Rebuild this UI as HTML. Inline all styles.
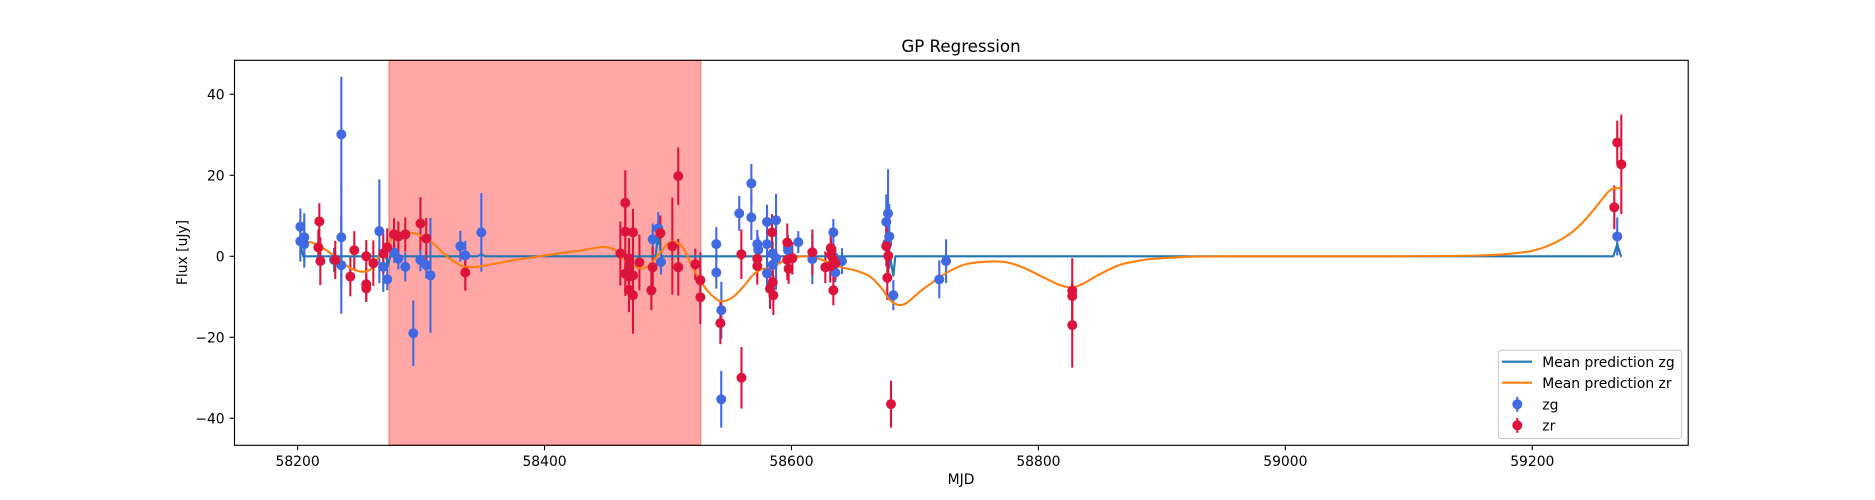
<!DOCTYPE html>
<html lang="en">
<head>
<meta charset="utf-8">
<title>GP Regression</title>
<style>
html,body{margin:0;padding:0;background:#fff;}
svg{display:block;}
text{font-family:"DejaVu Sans","Liberation Sans",sans-serif;fill:#000;}
</style>
</head>
<body>
<svg id="chart" xmlns="http://www.w3.org/2000/svg" width="1875" height="500" viewBox="0 0 1875 500">
  <rect x="0" y="0" width="1875" height="500" fill="#fff"/>
  <rect x="234.5" y="60.3" width="1453.7" height="385" fill="#fff"/>
  <g id="spanLayer"></g>
  <g id="barLayer"></g>
  <g id="lineLayer"></g>
  <g id="markerLayer"></g>
  <rect x="234.5" y="60.3" width="1453.7" height="385" fill="none" stroke="#000" stroke-width="1.11"/>
  <g id="xTicks"></g>
  <g id="yTicks"></g>
  <text x="961" y="52" font-size="16.67" text-anchor="middle">GP Regression</text>
  <text x="961" y="484" font-size="13.89" text-anchor="middle">MJD</text>
  <text x="0" y="0" font-size="13.89" text-anchor="middle" transform="translate(187 252.5) rotate(-90)">Flux [uJy]</text>
  <g>
    <rect x="1498.4" y="350.2" width="183.2" height="88.4" rx="3" ry="3" fill="#fff" fill-opacity="0.8" stroke="#ccc" stroke-width="1.11"/>
    <line x1="1502" y1="361.7" x2="1532" y2="361.7" stroke="#1f77b4" stroke-width="2.08"/>
    <text x="1542.3" y="366.8" font-size="13.89">Mean prediction zg</text>
    <line x1="1502" y1="382.7" x2="1532" y2="382.7" stroke="#ff7f0e" stroke-width="2.08"/>
    <text x="1542.3" y="388" font-size="13.89">Mean prediction zr</text>
    <line x1="1517.3" y1="396.8" x2="1517.3" y2="411.8" stroke="#4169e1" stroke-width="2.08"/>
    <circle cx="1517.3" cy="404.3" r="5" fill="#4169e1"/>
    <text x="1542.3" y="409.3" font-size="13.89">zg</text>
    <line x1="1517.3" y1="417.8" x2="1517.3" y2="432.8" stroke="#dc143c" stroke-width="2.08"/>
    <circle cx="1517.3" cy="425.3" r="5" fill="#dc143c"/>
    <text x="1542.3" y="430.4" font-size="13.89">zr</text>
  </g>
</svg>
<script>
var xTickValues = [58200, 58400, 58600, 58800, 59000, 59200];
var yTickValues = [-40, -20, 0, 20, 40];

var highlightStart = 58274;
var highlightEnd = 58526.5;

var zgMjd = [58202.2,58202.2,58205.4,58205.4,58229.5,58235.4,58235.4,58235.4,58266.2,58269.4,58272.6,58278.3,58281.6,58287.2,58293.7,58299.4,58304.2,58307.6,58331.8,58335.8,58348.8,58487.6,58492.1,58494.3,58539.1,58539.1,58543.2,58543.1,58557.7,58567.5,58567.5,58572.3,58573.1,58580.2,58580.2,58580.2,58584.8,58584.8,58587.5,58587.5,58597.2,58597.2,58605.5,58616.9,58633.9,58633.9,58635.5,58640.9,58678.2,58676.8,58679.2,58677.6,58682.5,58719.7,58725.2,59268.8];
var zgFlux = [7.3,3.7,4.7,3.0,-0.9,30.1,4.7,-2.2,6.2,-2.6,-5.7,0.9,-0.6,-2.6,-19,-0.9,-2.2,-4.7,2.5,0.2,5.9,4.2,6.9,-1.4,3,-4,-13.3,-35.3,10.6,18,9.6,3,1.6,8.5,3,-4.2,0.7,-2.1,8.9,-0.5,2.2,1.5,3.5,-0.7,5.9,0,-4,-1.2,10.6,8.5,4.9,3.2,-9.6,-5.7,-1.2,4.9];
var zgError = [4.5,5,5.9,5.8,3,14.2,12,12,12.8,6.2,2.7,2.5,2.6,3.6,8.1,2.8,3.3,14.2,3.8,3.6,9.7,3.9,4,3.1,4.2,4,7,7,4.3,4.8,5.6,3.5,3.2,4.2,3.5,4.5,3,3,6.5,7.8,3,3,2.7,6.2,3.3,3,2.4,3.2,10.9,6.8,8,4,3.7,4.7,5.4,4.7];

var zrMjd = [58217.6,58216.8,58218.4,58230.5,58242.7,58245.9,58255.6,58255.6,58255.6,58261.3,58269.4,58272.6,58278.1,58281.6,58287.2,58299.5,58304.2,58335.8,58461.4,58465.4,58465.4,58471.6,58476.8,58468.4,58468.4,58468.4,58465.4,58471.6,58468.4,58471.6,58487.6,58486.5,58493.8,58503.5,58508.3,58508.3,58522.1,58526.2,58526.2,58542.4,58559.4,58559.5,58572.3,58572.3,58584.2,58582.6,58584.8,58585.3,58596.6,58596.6,58597.7,58600.7,58616.9,58627.4,58631.8,58632,58633.9,58633.9,58635.5,58631.4,58676.8,58678.4,58677.6,58680.6,58827.4,58827.4,58827.4,59268.8,59272.1,59266.4];
var zrFlux = [8.6,2.2,-1.2,-0.9,-5,1.5,0,-6.9,-7.9,-1.7,0.7,2.2,5.4,4.9,5.4,8.1,4.4,-4,0.7,13.2,6.1,5.9,-1.5,-0.5,-2.6,-5,-4.3,-4.7,-8.3,-9.6,-2.7,-8.4,5.7,2.5,19.8,-2.7,-2,-5.9,-10.1,-16.5,0.5,-30,-0.6,-2.4,5.9,-8,-6.4,-9.6,3.4,-0.9,-3.1,-0.5,1,-2.7,2,0.3,-0.9,-8.4,-1.7,-2.5,2.5,0.1,-5.3,-36.5,-8.5,-9.8,-17,28.1,22.7,12.1];
var zrError = [4.5,4.4,5.9,4.7,4.9,4.7,4,4,3.4,5.6,5,4.7,4,3.7,4.2,6.5,5.1,4.5,7.9,8,6,5.8,6.9,5,5,5.5,5.5,5,5.5,9.5,5,4.9,4.4,12,7.1,7,3.9,6.9,6.6,5.2,6.1,7.6,4,4.6,4.5,5,4,4.9,4.7,5,3.7,4,5.6,3.9,5,4,4,3.7,4,4,5,6,5.5,5.8,8,3,10.5,5.4,12.3,5.4];

var zgMeanMjd = [58202.0,58203.0,58204.6,58271.6,58273.0,58275.0,58345.5,58348.8,58352.0,58489.9,58492.1,58494.7,58679.8,58682.5,58684.1,59265.6,59268.8,59271.9,59272.4];
var zgMeanFlux = [3.0,1.8,0,0,-2.6,0,0,0.5,0,0,5.5,0,0,-4.8,0,0,3,0,0];

var zrMeanMjd = [58204.6,58211.4,58220.6,58228.7,58236.8,58244.9,58253.2,58260,58265.1,58272.2,58277.3,58288.4,58296.5,58304.6,58309.7,58315.3,58320.8,58328.9,58335.6,58345,58358.5,58363.9,58372,58396.3,58417.9,58428.7,58442.2,58447.6,58455.7,58459.5,58465.2,58471.9,58478.7,58485.4,58492.1,58500.2,58505.7,58512.4,58520.5,58531.3,58539.4,58544.8,58552.9,58561,58569,58575.9,58582.6,58588,58596.1,58605.5,58615,58623.1,58639.2,58652.8,58663.6,58673,58679.8,58686.5,58693.3,58704.1,58717.6,58728.4,58741.9,58760.8,58774.3,58787.8,58804,58817.5,58827,58836.4,58849.9,58866.1,58879.6,58890.4,58922.8,58971.4,59092.9,59157.7,59184.6,59200.8,59214.4,59227.9,59238.7,59249.5,59260.3,59265.6,59272.4];
var zrMeanFlux = [3.5,3.4,2,0.3,-1.7,-3.2,-3.8,-3,-0.5,2,4.7,5.8,5.5,4.3,3.2,1.6,0,-1.7,-2.6,-2.6,-1.9,-1.6,-1.1,0,1,1.4,2.1,2.3,1.8,0.6,-1,-2.3,-3,-2.1,0.3,3.2,3.5,2,-3,-8.3,-10.6,-11.1,-10,-7.5,-4.6,-3.2,-3,-2.1,-0.7,-0.1,-0.1,-0.7,-2.6,-3.6,-5,-7.9,-10.8,-12,-11.5,-8.7,-5.7,-3.6,-1.9,-1.3,-1.5,-2.8,-5.2,-7.1,-7.7,-6.7,-4.4,-2.1,-1.2,-0.7,-0.1,0,0,0.2,0.7,1.4,2.8,5,7.7,11.4,15.5,16.7,16.8];

var NS = 'http://www.w3.org/2000/svg';
var xDomain = [58148.8, 59325.7];
var xRange = [234.4, 1687.5];
var yDomain = [-46.6, 48.47];
var yRange = [445, 60];

function xScale(v) {
  return xRange[0] + (v - xDomain[0]) * (xRange[1] - xRange[0]) / (xDomain[1] - xDomain[0]);
}
function yScale(v) {
  return yRange[0] + (v - yDomain[0]) * (yRange[1] - yRange[0]) / (yDomain[1] - yDomain[0]);
}
function make(tag, attrs, parent) {
  var el = document.createElementNS(NS, tag);
  for (var k in attrs) { el.setAttribute(k, attrs[k]); }
  parent.appendChild(el);
  return el;
}

var spanLayer = document.getElementById('spanLayer');
var barLayer = document.getElementById('barLayer');
var lineLayer = document.getElementById('lineLayer');
var markerLayer = document.getElementById('markerLayer');
var xTicksLayer = document.getElementById('xTicks');
var yTicksLayer = document.getElementById('yTicks');

/* highlighted span */
var spanEl = make('rect', {
  x: xScale(highlightStart), y: yRange[1] + 0.3,
  width: xScale(highlightEnd) - xScale(highlightStart), height: yRange[0] - yRange[1],
  fill: 'rgb(255,0,0)', 'fill-opacity': 0.35, stroke: 'rgb(255,0,0)', 'stroke-opacity': 0.35, 'stroke-width': 1.39
}, spanLayer);



/* x ticks */
xTickValues.forEach(function (t) {
  var tick = make('line', { x1: xScale(t), x2: xScale(t), y1: 445.3, y2: 450.2, stroke: '#000', 'stroke-width': 1.11 }, xTicksLayer);
  
  
  var label = make('text', { x: xScale(t), y: 466, 'font-size': 13.89, 'text-anchor': 'middle' }, xTicksLayer);
  label.textContent = String(t);
  
  
});

/* y ticks */
yTickValues.forEach(function (t) {
  var tick = make('line', { x1: 229.6, x2: 234.5, y1: yScale(t), y2: yScale(t), stroke: '#000', 'stroke-width': 1.11 }, yTicksLayer);
  
  
  var label = make('text', { x: 224.6, y: yScale(t) + 5.3, 'font-size': 13.89, 'text-anchor': 'end' }, yTicksLayer);
  label.textContent = String(t).replace('-', '\u2212');
  
  
});

/* error bars */
function drawBars(mjd, flux, err, color, series) {
  mjd.forEach(function (m, i) {
    var bar = make('line', {
      x1: xScale(m), x2: xScale(m),
      y1: yScale(flux[i] + err[i]), y2: yScale(flux[i] - err[i]),
      stroke: color, 'stroke-width': 2.08
    }, barLayer);
    
    
  });
}
drawBars(zgMjd, zgFlux, zgError, '#4169e1', 'zg');
drawBars(zrMjd, zrFlux, zrError, '#dc143c', 'zr');

/* mean prediction zg: piecewise straight */
var zgPathData = zgMeanMjd.map(function (m, i) {
  return (i ? 'L' : 'M') + xScale(m).toFixed(2) + ' ' + yScale(zgMeanFlux[i]).toFixed(2);
}).join(' ');
var zgLine = make('path', { d: zgPathData, fill: 'none', stroke: '#1f77b4', 'stroke-width': 2.08, 'stroke-linejoin': 'round' }, lineLayer);



/* mean prediction zr: smoothed through points */
function smoothPath(mjd, flux) {
  var pts = mjd.map(function (m, i) { return [xScale(m), yScale(flux[i])]; });
  var d = 'M' + pts[0][0].toFixed(2) + ' ' + pts[0][1].toFixed(2);
  for (var i = 0; i < pts.length - 1; i++) {
    var p0 = pts[Math.max(i - 1, 0)], p1 = pts[i], p2 = pts[i + 1], p3 = pts[Math.min(i + 2, pts.length - 1)];
    var c1x = p1[0] + (p2[0] - p0[0]) / 6, c1y = p1[1] + (p2[1] - p0[1]) / 6;
    var c2x = p2[0] - (p3[0] - p1[0]) / 6, c2y = p2[1] - (p3[1] - p1[1]) / 6;
    d += ' C' + c1x.toFixed(2) + ' ' + c1y.toFixed(2) + ' ' + c2x.toFixed(2) + ' ' + c2y.toFixed(2) + ' ' + p2[0].toFixed(2) + ' ' + p2[1].toFixed(2);
  }
  return d;
}
var zrLine = make('path', { d: smoothPath(zrMeanMjd, zrMeanFlux), fill: 'none', stroke: '#ff7f0e', 'stroke-width': 2.08, 'stroke-linejoin': 'round' }, lineLayer);



/* markers */
function drawMarkers(mjd, flux, color, series) {
  mjd.forEach(function (m, i) {
    var dot = make('circle', { cx: xScale(m), cy: yScale(flux[i]), r: 5, fill: color }, markerLayer);
    
    
  });
}
drawMarkers(zgMjd, zgFlux, '#4169e1', 'zg');
drawMarkers(zrMjd, zrFlux, '#dc143c', 'zr');
</script>
</body>
</html>
